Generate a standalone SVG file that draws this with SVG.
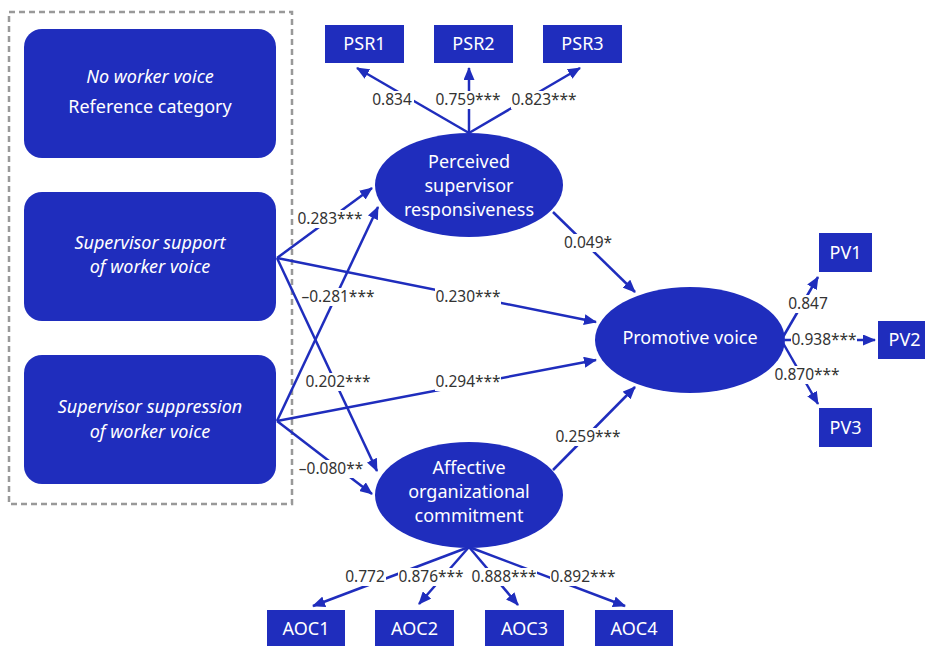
<svg xmlns="http://www.w3.org/2000/svg" width="925" height="646" viewBox="0 0 925 646">
<style>
.node{fill:#1f2dbd}
.nt{fill:#fff;font-family:"Noto Sans","Open Sans",sans-serif;font-size:18px;text-anchor:middle}
.it{font-style:italic}
.conn line{stroke:#1f2dbd;stroke-width:2.5;marker-end:url(#ah)}
.lb rect{fill:#fff}
.lb text{fill:#333;font-family:"Noto Sans","Open Sans",sans-serif;font-size:15.5px;text-anchor:middle}
</style>
<defs>
<marker id="ah" markerUnits="userSpaceOnUse" markerWidth="13" markerHeight="11" refX="12" refY="5.5" orient="auto">
<path d="M0,0 L13,5.5 L0,11 z" fill="#1f2dbd"/>
</marker>
</defs>
<rect width="925" height="646" fill="#fff"/>
<rect x="9" y="12" width="283" height="492" fill="none" stroke="#999" stroke-width="2.5" stroke-dasharray="6,4"/>

<g id="conns" class="conn">
<line x1="469" y1="133" x2="357" y2="68"/>
<line x1="469" y1="133" x2="469" y2="68"/>
<line x1="469" y1="133" x2="580" y2="68"/>
<line x1="277" y1="258" x2="372" y2="188"/>
<line x1="277" y1="421" x2="378" y2="207"/>
<line x1="277" y1="258" x2="596" y2="322"/>
<line x1="277" y1="421" x2="596" y2="360"/>
<line x1="277" y1="258" x2="377" y2="471"/>
<line x1="277" y1="421" x2="372" y2="494"/>
<line x1="553" y1="212" x2="635" y2="292"/>
<line x1="553" y1="470" x2="635" y2="387"/>
<line x1="783" y1="337" x2="818" y2="277"/>
<line x1="785" y1="340" x2="875" y2="340"/>
<line x1="783" y1="343" x2="818" y2="404"/>
<line x1="469" y1="547" x2="313" y2="606"/>
<line x1="469" y1="547" x2="419" y2="604"/>
<line x1="469" y1="547" x2="518" y2="605"/>
<line x1="469" y1="547" x2="625" y2="606"/>
</g>

<g id="labels" class="lb">
<rect x="370" y="91" width="44" height="18"/><text x="392" y="105">0.834</text>
<rect x="435" y="91" width="66" height="18"/><text x="468" y="105">0.759***</text>
<rect x="511" y="91" width="66" height="18"/><text x="544" y="105">0.823***</text>
<rect x="297" y="210" width="66" height="18"/><text x="330" y="224">0.283***</text>
<rect x="301" y="288" width="74" height="18"/><text x="338" y="302">–0.281***</text>
<rect x="435" y="288" width="66" height="18"/><text x="468" y="302">0.230***</text>
<rect x="435" y="373" width="66" height="18"/><text x="468" y="387">0.294***</text>
<rect x="305" y="373" width="66" height="18"/><text x="338" y="387">0.202***</text>
<rect x="297" y="460" width="68" height="18"/><text x="331" y="474">–0.080**</text>
<rect x="563" y="234" width="50" height="18"/><text x="588" y="248">0.049*</text>
<rect x="555" y="428" width="66" height="18"/><text x="588" y="442">0.259***</text>
<rect x="787" y="295" width="42" height="18"/><text x="808" y="309">0.847</text>
<rect x="791" y="331" width="66" height="18"/><text x="824" y="345">0.938***</text>
<rect x="774" y="366" width="66" height="18"/><text x="807" y="380">0.870***</text>
<rect x="344" y="568" width="42" height="18"/><text x="365" y="582">0.772</text>
<rect x="398" y="568" width="66" height="18"/><text x="431" y="582">0.876***</text>
<rect x="471" y="568" width="66" height="18"/><text x="504" y="582">0.888***</text>
<rect x="550" y="568" width="66" height="18"/><text x="583" y="582">0.892***</text>
</g>

<g id="no-voice"><rect class="node" x="24" y="29" width="252" height="129" rx="18"/>
<text class="nt it" x="150" y="83">No worker voice</text><text class="nt" x="150" y="113">Reference category</text></g>
<g id="support"><rect class="node" x="24" y="192" width="252" height="129" rx="18"/>
<text class="nt it" x="150" y="249">Supervisor support</text><text class="nt it" x="150" y="273">of worker voice</text></g>
<g id="suppression"><rect class="node" x="24" y="355" width="252" height="129" rx="18"/>
<text class="nt it" x="150" y="413">Supervisor suppression</text><text class="nt it" x="150" y="438">of worker voice</text></g>

<g id="psr"><ellipse class="node" cx="469" cy="185" rx="94" ry="52"/>
<text class="nt" x="469" y="168">Perceived</text><text class="nt" x="469" y="192">supervisor</text><text class="nt" x="469" y="216">responsiveness</text></g>
<g id="aoc"><ellipse class="node" cx="469" cy="495" rx="94" ry="53"/>
<text class="nt" x="469" y="474">Affective</text><text class="nt" x="469" y="498">organizational</text><text class="nt" x="469" y="522">commitment</text></g>
<g id="pv"><ellipse class="node" cx="690" cy="340" rx="95" ry="53"/>
<text class="nt" x="690" y="344">Promotive voice</text></g>

<g id="psr1"><rect class="node" x="325" y="25" width="79" height="38"/><text class="nt" x="364.5" y="50">PSR1</text></g>
<g id="psr2"><rect class="node" x="434" y="25" width="79" height="38"/><text class="nt" x="473.5" y="50">PSR2</text></g>
<g id="psr3"><rect class="node" x="543" y="25" width="79" height="38"/><text class="nt" x="582.5" y="50">PSR3</text></g>
<g id="pv1"><rect class="node" x="819" y="233" width="53" height="39"/><text class="nt" x="845.5" y="259">PV1</text></g>
<g id="pv2"><rect class="node" x="878" y="321" width="53" height="38"/><text class="nt" x="904.5" y="346">PV2</text></g>
<g id="pv3"><rect class="node" x="819" y="408" width="53" height="39"/><text class="nt" x="845.5" y="434">PV3</text></g>
<g id="aoc1"><rect class="node" x="267" y="610" width="78" height="37"/><text class="nt" x="306" y="635">AOC1</text></g>
<g id="aoc2"><rect class="node" x="375" y="610" width="79" height="37"/><text class="nt" x="414.5" y="635">AOC2</text></g>
<g id="aoc3"><rect class="node" x="485" y="610" width="79" height="37"/><text class="nt" x="524.5" y="635">AOC3</text></g>
<g id="aoc4"><rect class="node" x="595" y="610" width="78" height="37"/><text class="nt" x="634" y="635">AOC4</text></g>
</svg>
